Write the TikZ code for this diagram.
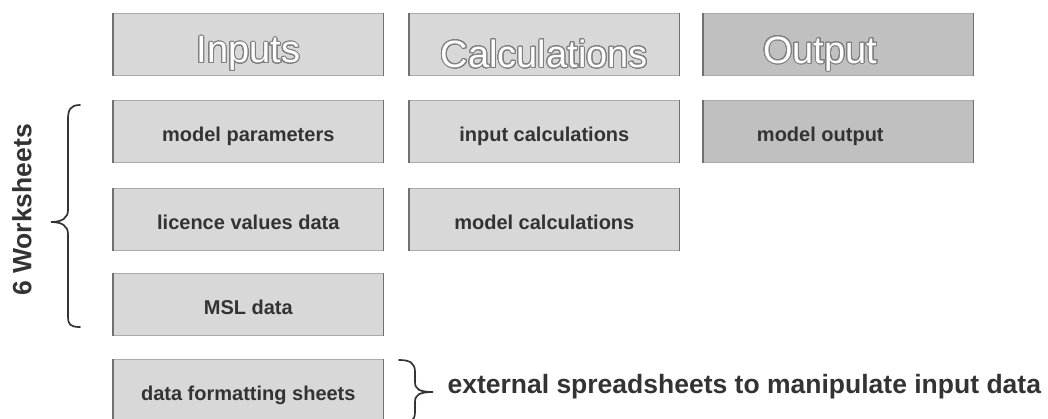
\documentclass[tikz,border=0pt]{standalone}
\usepackage{fontspec}
\setmainfont{Liberation Sans}
\usepackage[copies]{contour}
\contourlength{1pt}
\contournumber{24}
\definecolor{sheetfill}{HTML}{D8D8D8}
\definecolor{outfill}{HTML}{C0C0C0}
\definecolor{sideline}{HTML}{707070}
\definecolor{rimline}{HTML}{ABABAB}
\definecolor{ink}{HTML}{333333}
\definecolor{hollow}{HTML}{808080}
\begin{document}
\begin{tikzpicture}[x=1pt,y=-1pt,
  sheet/.style={anchor=north west, minimum width=270pt, minimum height=62pt,
    inner sep=0pt, fill=sheetfill, draw=rimline, line width=0.6pt,
    text=ink, font=\bfseries\fontsize{20}{24}\selectfont,
    text height=20pt, text depth=0pt},
  outsheet/.style={sheet, fill=outfill},
  headtext/.style={anchor=center, yshift=-10pt, text=white, font=\fontsize{38}{44}\selectfont},
  outtext/.style={anchor=center, xshift=-18pt, yshift=-4.8pt, text=ink,
    font=\bfseries\fontsize{20}{24}\selectfont},
  sideedge/.style={draw=sideline, line width=1.6pt},
  bracepen/.style={draw=ink, line width=1.7pt, line cap=round},
  note/.style={text=ink, font=\bfseries\fontsize{26.5}{30}\selectfont}]
\clip (0,0) rectangle (1048,418);
\fill[white] (0,0) rectangle (1048,418);

% column headers
\node[sheet, label={[headtext]center:\contour{hollow}{Inputs}}] (hin) at (113,13) {};
\node[sheet, label={[headtext]center:\contour{hollow}{Calculations}}] (hcalc) at (409,13) {};
\node[outsheet, label={[headtext, xshift=-18pt]center:\contour{hollow}{Output}}] (hout) at (703,13) {};

% worksheets
\node[sheet] (par) at (113,100) {model parameters};
\node[sheet] (lic) at (113,188) {licence values data};
\node[sheet] (msl) at (113,273) {MSL data};
\node[sheet] (fmt) at (113,359) {data formatting sheets};
\node[sheet] (icalc) at (409,100) {input calculations};
\node[sheet] (mcalc) at (409,188) {model calculations};
\node[outsheet, label={[outtext]center:model output}] (mout) at (703,100) {};

% darker left and right sides of each sheet
\foreach \n in {hin,hcalc,hout,par,lic,msl,fmt,icalc,mcalc,mout}
  \draw[sideedge] (\n.north west) -- (\n.south west) (\n.north east) -- (\n.south east);

% brace grouping the six worksheets
\draw[bracepen] (80,105) .. controls (70,105) and (68,110) .. (68,120) -- (68,210)
  .. controls (68,218) and (62,222) .. (51,222)
  .. controls (62,222) and (68,226) .. (68,234) -- (68,317)
  .. controls (68,324) and (70,327) .. (80,327);
\node[note, rotate=90] (ws) at (22,210) {6 Worksheets};

% brace for the external spreadsheets
\draw[bracepen] (399,360) .. controls (410,360) and (415,363) .. (415,372) -- (415,382)
  .. controls (415,389) and (419,392) .. (433,392)
  .. controls (419,392) and (415,395) .. (415,402) -- (415,412)
  .. controls (415,421) and (410,424) .. (399,424);
\node[note, anchor=base west] (ext) at (444,393) {external spreadsheets to manipulate input data};
\end{tikzpicture}
\end{document}
